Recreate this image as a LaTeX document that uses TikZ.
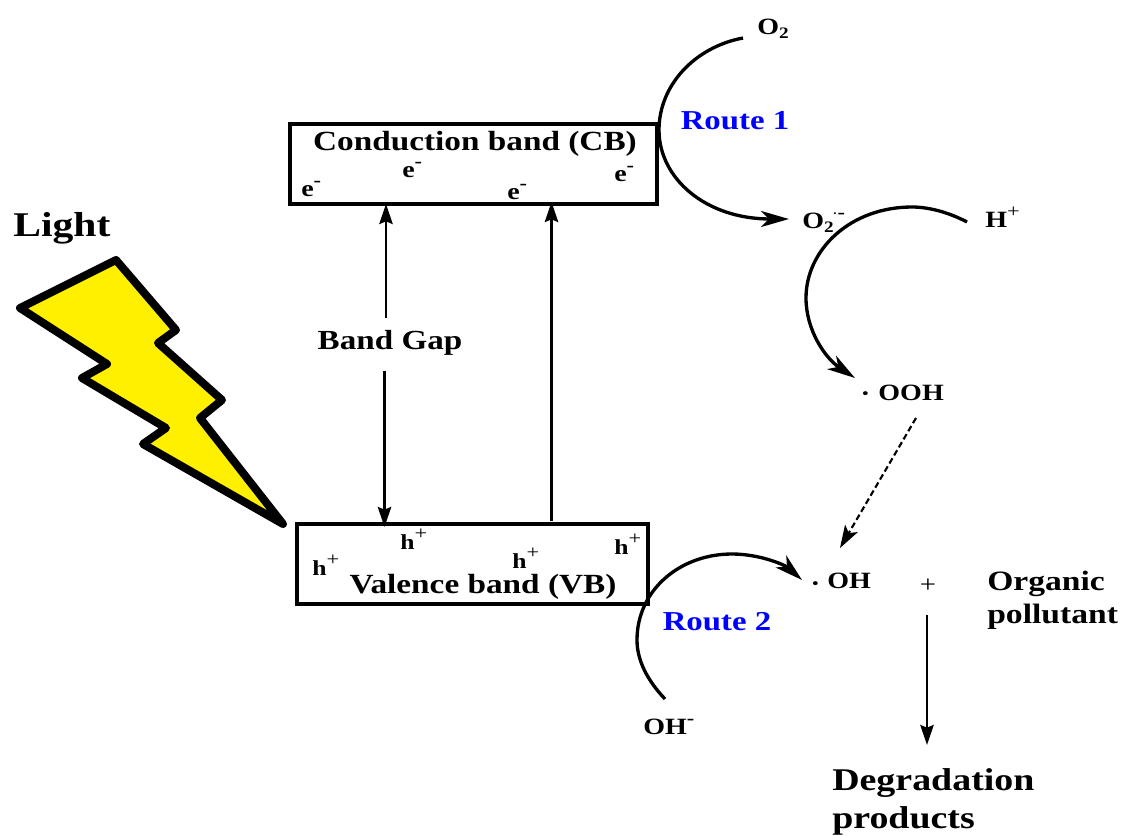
\documentclass[tikz,border=0pt]{standalone}
\usepackage{fontspec}
\setmainfont[FakeStretch=1.2]{Liberation Serif}
\usetikzlibrary{arrows.meta}
\newcommand{\supminus}{\raisebox{7.5pt}{\fontsize{14}{14}\selectfont -}}
\newcommand{\supplus}{\raisebox{7.5pt}{\mdseries\fontsize{14}{14}\selectfont +}}
\newcommand{\subtwo}{\raisebox{-3.5pt}{\fontsize{12}{12}\selectfont 2}}
\newcommand{\raddot}[1]{\raisebox{#1}{\fontsize{11}{11}\selectfont\textbullet}}
\definecolor{routeblue}{RGB}{0,0,255}
\definecolor{bolt}{RGB}{255,240,0}
\tikzset{
  lbl/.style={inner sep=0pt,anchor=base west,font=\bfseries\fontsize{#1}{#1}\selectfont,text=black},
  lbl/.default=17.5,
  title/.style={inner sep=0pt,anchor=base,font=\bfseries\fontsize{#1}{#1}\selectfont,text=black},
  route/.style={inner sep=0pt,anchor=base,font=\bfseries\fontsize{20.5}{20.5}\selectfont,text=routeblue},
  band/.style={draw=black,line width=2.4pt,fill=none},
  curve/.style={line width=2.5pt,draw=black},
  tip/.style={-{Stealth[length=21pt,width=12pt,inset=6pt]}},
  thin arrow/.style={line width=2pt,draw=black,-{Stealth[length=15pt,width=10pt,inset=2pt]}},
}
\begin{document}
\begin{tikzpicture}[x=0.75pt,y=-0.75pt]
\useasboundingbox (0,0) rectangle (1122,836);
\fill[white] (0,0) rectangle (1122,836);
% lightning
\filldraw[fill=bolt,draw=black,line width=6pt,line join=round] (116,260) -- (176,330) -- (158,343) -- (222,400) -- (200,418) -- (283,524) -- (143,444) -- (166,428) -- (82,378) -- (107,364) -- (20,308) -- cycle;
\node[lbl=26] (light) at (13,236) {Light};
% bands
\coordinate (cbnw) at (290,124);
\coordinate (cbse) at (657,204);
\coordinate (vbnw) at (297,524);
\coordinate (vbse) at (648,604);
\draw[band] (cbnw) rectangle (cbse);
\draw[band] (vbnw) rectangle (vbse);
\node[title=20.8] (cb) at (475,150) {Conduction band (CB)};
\node[title=20.8] (vb) at (483,593) {Valence band (VB)};
\foreach \n/\x/\y in {e1/301/196,e2/402/177,e3/507/199,e4/614/181}
  \node[lbl] (\n) at (\x,\y) {e\supminus};
\foreach \n/\x/\y in {h1/312/575,h2/400/549,h3/512/568,h4/614/554}
  \node[lbl=16] (\n) at (\x,\y) {h\supplus};
% band gap
\node[title=20.7] (gap) at (390,349) {Band Gap};
\coordinate (gt) at (386,204);
\coordinate (gs) at (386,318);
\coordinate (gu) at (384.5,371);
\coordinate (gb) at (384.5,527);
\draw[thin arrow] (gs) -- (gt);
\draw[thin arrow] (gu) -- (gb);
\coordinate (vup1) at (551.5,521);
\coordinate (vup2) at (551.5,202);
\draw[thin arrow] (vup1) -- (vup2);
% route 1
\node[lbl] (o2) at (757,34) {O\subtwo};
\node[route] (r1) at (735,129) {Route 1};
\node[lbl] (o2m) at (802,228) {O\subtwo\hspace{-1pt}\raisebox{7pt}{\fontsize{14}{14}\selectfont$\cdot$-}};
\node[lbl] (hp) at (985,227) {H\supplus};
\node[lbl] (ooh) at (862,400) {\raddot{1.5pt}\hspace{7.5pt}OOH};
\draw[curve,tip] (743,38) .. controls (695,47) and (659,85) .. (659,130) .. controls (659,178) and (705,219) .. (789,219);
\draw[curve,tip] (967,222) .. controls (950,213) and (930,207) .. (912,207) .. controls (850,207) and (806,250) .. (806,298) .. controls (806,330) and (825,358) .. (855,378);
\draw[line width=1.6pt,dash pattern=on 4.5pt off 2.5pt,-{Stealth[length=17pt,width=11pt,inset=4pt]}] (916,418) -- (840,548);
% route 2
\node[lbl] (oh) at (812,588) {\raddot{0pt}\hspace{6.75pt}OH};
\node[title=18,font=\mdseries\fontsize{18}{18}\selectfont] (plus) at (928,592) {+};
\node[route] (r2) at (717,630) {Route 2};
\node[lbl] (ohm) at (643,734) {OH\supminus};
\draw[curve,tip] (665,699) .. controls (647,680) and (637,660) .. (637,640) .. controls (637,590) and (680,554) .. (732,554) .. controls (760,554) and (785,565) .. (802,580);
\node[lbl=21] (org1) at (987,590) {Organic};
\node[lbl=21] (org2) at (987,623) {pollutant};
\coordinate (da) at (927,615);
\coordinate (db) at (927,745);
\draw[thin arrow] (da) -- (db);
\node[lbl=23.7] (deg1) at (832,790) {Degradation};
\node[lbl=23.7] (deg2) at (832,828) {products};
\end{tikzpicture}
\end{document}
